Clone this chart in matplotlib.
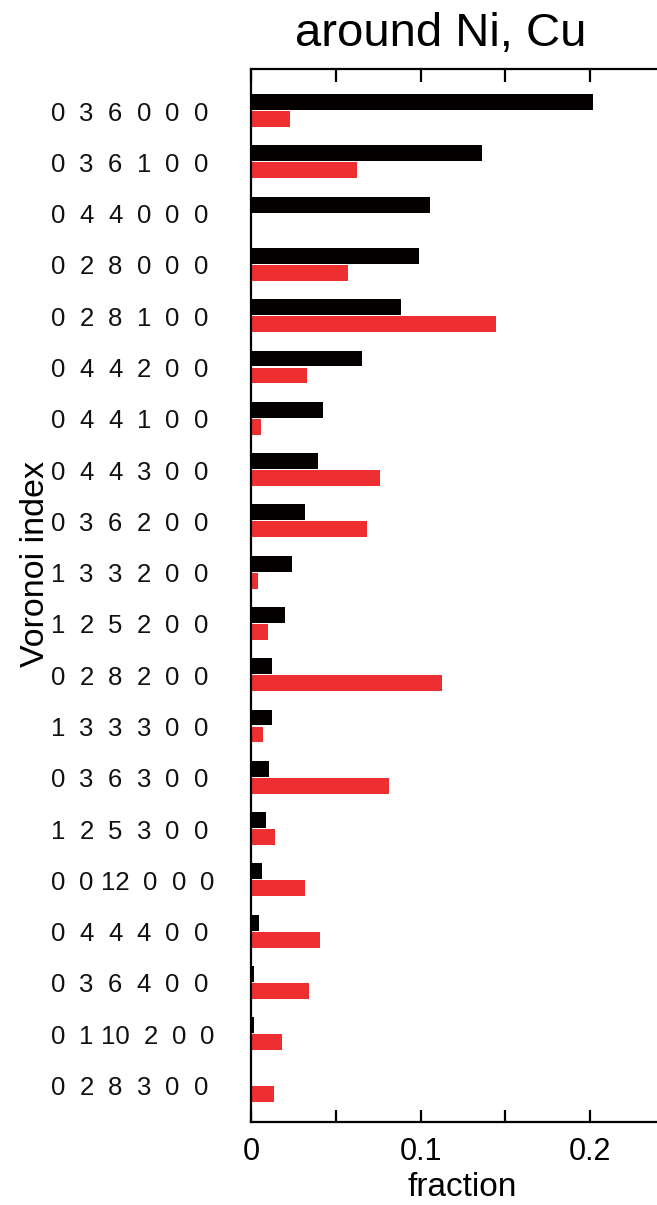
import matplotlib
matplotlib.use("Agg")
import matplotlib.pyplot as plt
import matplotlib.transforms as mtransforms

plt.rcParams['font.family'] = ['Liberation Sans', 'DejaVu Sans']

# Voronoi indices (top to bottom) and fraction of each around Ni and Cu
voronoi_index = [
    "0 3 6 0 0 0", "0 3 6 1 0 0", "0 4 4 0 0 0", "0 2 8 0 0 0",
    "0 2 8 1 0 0", "0 4 4 2 0 0", "0 4 4 1 0 0", "0 4 4 3 0 0",
    "0 3 6 2 0 0", "1 3 3 2 0 0", "1 2 5 2 0 0", "0 2 8 2 0 0",
    "1 3 3 3 0 0", "0 3 6 3 0 0", "1 2 5 3 0 0", "0 0 12 0 0 0",
    "0 4 4 4 0 0", "0 3 6 4 0 0", "0 1 10 2 0 0", "0 2 8 3 0 0",
]
frac_ni = [0.2017, 0.1361, 0.1055, 0.0990, 0.0886, 0.0654, 0.0424, 0.0395,
           0.0318, 0.0244, 0.0202, 0.0124, 0.0124, 0.0106, 0.0088, 0.0065,
           0.0047, 0.0018, 0.0018, 0.0]
frac_cu = [0.0230, 0.0625, 0.0, 0.0573, 0.1444, 0.0330, 0.0059, 0.0760,
           0.0684, 0.0041, 0.0100, 0.1126, 0.0071, 0.0813, 0.0141, 0.0318,
           0.0407, 0.0342, 0.0183, 0.0136]
x_ticks = [0, 0.05, 0.1, 0.15, 0.2]
x_ticklabels = ["0", "", "0.1", "", "0.2"]

W, H = 657, 1205
fig = plt.figure(figsize=(W / 100, H / 100), dpi=100)
left, right, top, bottom = 251, 657, 69, 1122
ax = fig.add_axes([left / W, 1 - bottom / H, (right - left) / W, (bottom - top) / H])

black = '#050000'
red = '#ee2e31'
n = len(voronoi_index)
ypos = list(range(n))
bh = 0.31
off = 0.166
ax.barh([y - off for y in ypos], frac_ni, height=bh, color=black, linewidth=0)
ax.barh([y + off for y in ypos], frac_cu, height=bh, color=red, linewidth=0)

ax.set_xlim(0, 0.2393)
ax.set_ylim(n - 1 + 0.72, -0.81)

for side in ('left', 'top', 'bottom'):
    ax.spines[side].set_linewidth(1.6)
ax.spines['right'].set_visible(False)

ax.set_yticks([])
ax.set_xticks(x_ticks)
ax.set_xticklabels(x_ticklabels, fontsize=22)
ax.tick_params(axis='x', which='both', direction='in', length=9, width=1.6,
               top=True, bottom=True, pad=11)

# Voronoi index labels, each integer placed in its own column
trans = mtransforms.blended_transform_factory(fig.transFigure, ax.transData)
trans = mtransforms.offset_copy(trans, fig=fig, x=0, y=-3, units='dots')
for y, label in zip(ypos, voronoi_index):
    xc = 58.0
    for tok in label.split():
        ax.text(xc / W, y, tok, transform=trans, ha='center', va='center',
                fontsize=18.5, color='#111111')
        xc += 28.6 + (6.6 if len(tok) > 1 else 0)

fig.text(36 / W, 1 - 564 / H, "Voronoi index", rotation=90, ha='center',
         va='center', fontsize=24.5)
fig.text(462 / W, 1 - 1188 / H, "fraction", ha='center', va='center', fontsize=24)
fig.text(441 / W, 1 - 46 / H, "around Ni, Cu", ha='center', va='baseline', fontsize=34)

fig.savefig("out.png", dpi=100)
